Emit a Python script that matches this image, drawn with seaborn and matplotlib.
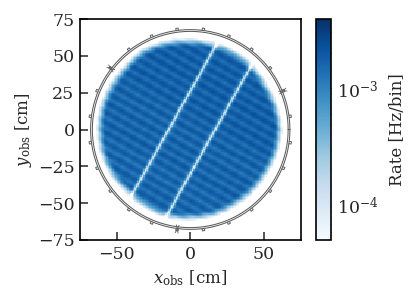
import numpy as np
import pandas as pd
import matplotlib
matplotlib.use("Agg")
import matplotlib.pyplot as plt
from matplotlib.colors import LogNorm
from matplotlib.transforms import Affine2D
import seaborn as sns

# Readings from the picture
band_positions = [-63, -60, -57, -54, -51, -48, -45, -42, -39, -36, -33, -30, -27, -24, -21, -18, -15, -12, -9, -6, -3,
                  0, 3, 6, 9, 12, 15, 18, 21, 24, 27, 30, 33, 36, 39, 42, 45, 48, 51, 54, 57, 60, 63]
band_rates = [1.25, 1.8, 1.2, 1.95, 1.2, 2.0, 1.15, 2.0, 1.1, 1.95, 1.15, 2.0, 1.2, 2.1, 1.15, 2.0, 1.2, 2.1, 1.15, 2.0, 1.15,
              2.1, 1.2, 2.0, 1.25, 2.15, 1.3, 2.2, 1.3, 2.1, 1.3, 2.25, 1.35, 2.2, 1.3, 2.2, 1.35, 2.2, 1.35, 2.1, 1.3, 2.0, 1.25]
module_positions = [-63, -59, -55, -51, -47, -43, -39, -35, -31, -27, -23, -19, -15, -11, -7, -3,
                    1, 5, 9, 13, 17, 21, 25, 29, 33, 37, 41, 45, 49, 53, 57, 61]
module_factors = [1.07, 0.94, 1.07, 0.94, 1.07, 0.94, 1.07, 0.94, 1.07, 0.94, 1.07, 0.94, 1.07, 0.94, 1.07, 0.94,
                  1.07, 0.94, 1.07, 0.94, 1.07, 0.94, 1.07, 0.94, 1.07, 0.94, 1.07, 0.94, 1.07, 0.94, 1.07, 0.94]
edge_angles = [0, 15, 30, 45, 60, 75, 90, 105, 120, 135, 150, 165, 180,
               195, 210, 225, 240, 255, 270, 285, 300, 315, 330, 345, 360]
edge_radii = [63, 62, 61, 62, 62, 62, 62, 63, 64, 63, 63, 64, 64,
              64, 63, 62, 62, 63, 62, 62, 61, 61, 61, 62, 63]
gap_offsets = [-12.8, 14.8]
gap_width = 1.6
gap_depth = 0.07
tab_angles = [7.5, 22.5, 37.5, 52.5, 67.5, 82.5, 97.5, 112.5, 127.5, 142.5, 157.5, 172.5,
              187.5, 202.5, 217.5, 232.5, 247.5, 262.5, 277.5, 292.5, 307.5, 322.5, 337.5, 352.5]
cross_tab_angles = [22.5, 142.5, 262.5]
ring_radii = [66.6, 67.8]
x_ticks = [-50, 0, 50]
y_ticks = [-75, -50, -25, 0, 25, 50, 75]

# Cell rates on the observation plane
theta = np.radians(60.6)
centers = np.arange(-74.5, 75, 1.0)
X, Y = np.meshgrid(centers, centers)
U = X * np.cos(theta) + Y * np.sin(theta)
V = X * np.sin(theta) - Y * np.cos(theta)
R = np.hypot(X, Y)
PHI = np.degrees(np.arctan2(Y, X)) % 360
rate = 1e-3 * np.interp(U, band_positions, band_rates) * np.interp(V, module_positions, module_factors)
for off in gap_offsets:
    rate *= 1 - (1 - gap_depth) * np.exp(-((V - off) / gap_width) ** 2)
edge = np.interp(PHI, edge_angles, edge_radii)
rate *= 10 ** (-1.7 * np.clip((R - (edge - 6)) / 6.5, 0, 1) ** 1.5)
rate[R > edge + 1] = np.nan
rate[rate < 5.1e-5] = np.nan
frame = pd.DataFrame(rate)

sns.set_style("ticks")
plt.rcParams["font.family"] = "DejaVu Serif"
plt.rcParams["mathtext.fontset"] = "dejavuserif"

fig = plt.figure(figsize=(4.16, 3.01), dpi=100)
ax = fig.add_axes([80 / 416, 61 / 301, 220.5 / 416, 221 / 301])
cax = fig.add_axes([316 / 416, 61 / 301, 15 / 416, 221 / 301])
sns.heatmap(frame, ax=ax, cbar_ax=cax, cmap="Blues", norm=LogNorm(vmin=5.1e-5, vmax=3.9e-3),
            xticklabels=False, yticklabels=False, rasterized=True)
mesh = ax.collections[0]
mesh.set_transform(Affine2D().translate(-75, -75) + ax.transData)

ax.set_xlim(-75, 75)
ax.set_ylim(-75, 75)
ax.set_xticks(x_ticks)
ax.set_yticks(y_ticks)
ax.set_xticklabels([str(t).replace("-", "\u2212") for t in x_ticks])
ax.set_yticklabels([str(t).replace("-", "\u2212") for t in y_ticks])
ax.tick_params(direction="in", length=6, width=1.1, labelsize=12.5, pad=4, top=False, right=False)
ax.set_xlabel(r"$x_{\mathrm{obs}}$ [cm]", fontsize=12, labelpad=4)
ax.set_ylabel(r"$y_{\mathrm{obs}}$ [cm]", fontsize=12, labelpad=3)
for s in ax.spines.values():
    s.set_visible(True)
    s.set_linewidth(1.2)
    s.set_color("black")

# Detector outline
line_color = "#5c5c5c"
phi = np.radians(np.linspace(0, 360, 361))
for r in ring_radii:
    ax.plot(r * np.cos(phi), r * np.sin(phi), color=line_color, lw=0.75)
for a in tab_angles:
    t = np.radians(a)
    e_r = np.array([np.cos(t), np.sin(t)])
    e_t = np.array([-np.sin(t), np.cos(t)])
    rr = np.array([67.8, 69.3, 69.3, 67.8])
    tt = np.array([-0.8, -0.8, 0.8, 0.8])
    ax.plot(rr * e_r[0] + tt * e_t[0], rr * e_r[1] + tt * e_t[1], color=line_color, lw=0.7)
    if a in cross_tab_angles:
        rr = np.array([65.4, 70.8])
        for d in (-1.0, 1.0):
            tt = np.array([d, -d])
            ax.plot(rr * e_r[0] + tt * e_t[0], rr * e_r[1] + tt * e_t[1], color=line_color, lw=0.6)

cbar = mesh.colorbar
cbar.set_ticks([1e-4, 1e-3])
cbar.ax.tick_params(which="major", direction="in", length=6, width=1, labelsize=12.5, pad=4, right=True)
cbar.ax.tick_params(which="minor", direction="in", length=3, width=0.8, right=True)
cbar.set_label("Rate [Hz/bin]", fontsize=12, labelpad=8)
cbar.outline.set_visible(True)
cbar.outline.set_linewidth(1.2)
cbar.outline.set_edgecolor("black")

fig.savefig("out.png", dpi=100)
